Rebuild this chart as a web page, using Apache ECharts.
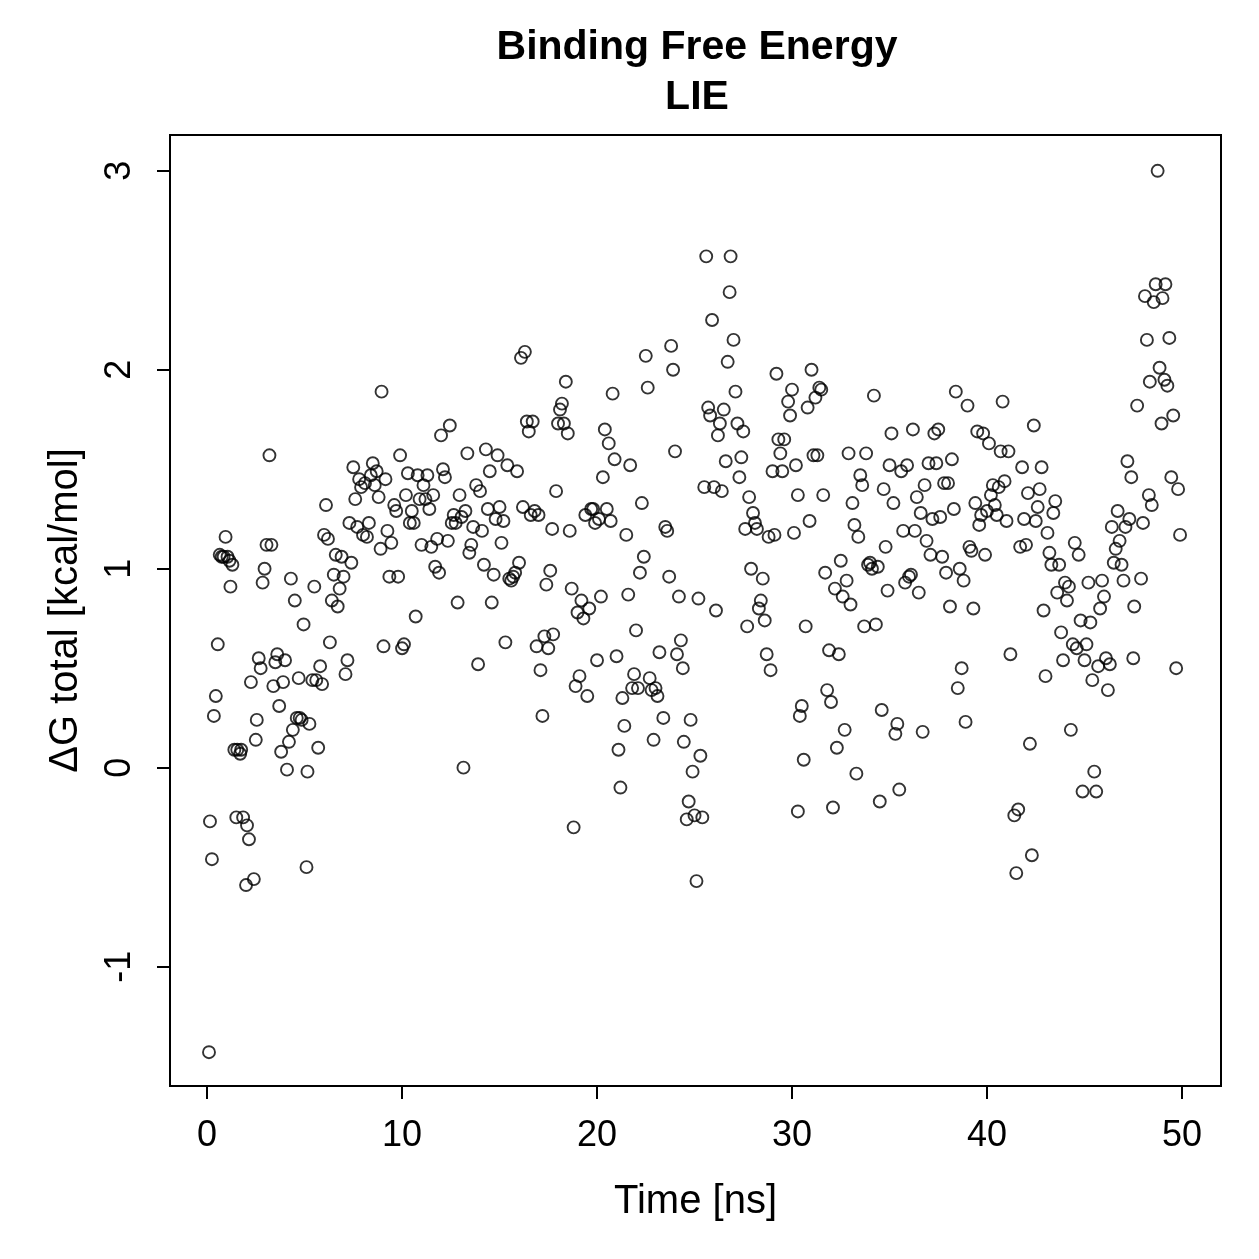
<!DOCTYPE html>
<html>
<head>
<meta charset="utf-8">
<script src="https://cdn.jsdelivr.net/npm/echarts@6/dist/echarts.min.js"></script>
<style>
  html, body { margin: 0; padding: 0; background: #fff; }
  #chart { width: 1259px; height: 1259px; }
</style>
</head>
<body>
<div id="chart"></div>
<script>
// simulation time (ns)
var timeNs = [
  0.1, 0.15, 0.25, 0.35, 0.45, 0.55, 0.65, 0.75, 0.85, 0.95,
  1.05, 1.15, 1.2, 1.3, 1.4, 1.5, 1.55, 1.7, 1.75, 1.85,
  2.0, 2.05, 2.15, 2.25, 2.4, 2.5, 2.55, 2.65, 2.75, 2.85,
  2.95, 3.05, 3.2, 3.3, 3.4, 3.5, 3.6, 3.7, 3.8, 3.9,
  4.0, 4.1, 4.2, 4.3, 4.4, 4.5, 4.6, 4.7, 4.75, 4.85,
  4.95, 5.1, 5.15, 5.25, 5.4, 5.5, 5.6, 5.7, 5.8, 5.9,
  6.0, 6.1, 6.2, 6.3, 6.4, 6.5, 6.6, 6.7, 6.8, 6.9,
  7.0, 7.1, 7.2, 7.3, 7.4, 7.5, 7.6, 7.7, 7.8, 7.9,
  8.0, 8.1, 8.2, 8.3, 8.4, 8.5, 8.6, 8.7, 8.8, 8.9,
  8.95, 9.05, 9.15, 9.25, 9.35, 9.45, 9.6, 9.7, 9.8, 9.9,
  10.0, 10.1, 10.2, 10.3, 10.4, 10.5, 10.6, 10.7, 10.8, 10.9,
  11.0, 11.1, 11.2, 11.3, 11.4, 11.5, 11.6, 11.7, 11.8, 11.9,
  12.0, 12.1, 12.2, 12.35, 12.45, 12.55, 12.65, 12.75, 12.85, 12.95,
  13.05, 13.15, 13.25, 13.35, 13.45, 13.55, 13.65, 13.8, 13.9, 14.0,
  14.1, 14.2, 14.3, 14.4, 14.5, 14.6, 14.7, 14.8, 14.9, 15.0,
  15.1, 15.2, 15.3, 15.4, 15.5, 15.6, 15.7, 15.8, 15.9, 16.0,
  16.1, 16.2, 16.3, 16.4, 16.5, 16.6, 16.7, 16.8, 16.9, 17.0,
  17.1, 17.2, 17.3, 17.4, 17.5, 17.6, 17.7, 17.75, 17.9, 18.0,
  18.1, 18.2, 18.3, 18.4, 18.5, 18.6, 18.7, 18.8, 18.9, 19.0,
  19.1, 19.2, 19.3, 19.4, 19.5, 19.6, 19.7, 19.8, 19.9, 20.0,
  20.1, 20.2, 20.3, 20.4, 20.5, 20.6, 20.7, 20.8, 20.9, 21.0,
  21.1, 21.2, 21.3, 21.4, 21.5, 21.6, 21.7, 21.8, 21.9, 22.0,
  22.1, 22.2, 22.3, 22.4, 22.5, 22.6, 22.7, 22.8, 22.9, 23.0,
  23.1, 23.2, 23.4, 23.5, 23.6, 23.7, 23.8, 23.9, 24.0, 24.1,
  24.2, 24.3, 24.4, 24.45, 24.6, 24.7, 24.8, 24.9, 25.0, 25.1,
  25.2, 25.3, 25.4, 25.5, 25.6, 25.7, 25.8, 25.9, 26.0, 26.1,
  26.2, 26.3, 26.4, 26.5, 26.6, 26.7, 26.8, 26.85, 27.0, 27.1,
  27.2, 27.3, 27.4, 27.5, 27.6, 27.7, 27.8, 27.9, 28.0, 28.1,
  28.2, 28.3, 28.4, 28.5, 28.6, 28.7, 28.8, 28.9, 29.0, 29.1,
  29.2, 29.3, 29.4, 29.5, 29.6, 29.8, 29.9, 30.0, 30.1, 30.2,
  30.3, 30.3, 30.4, 30.5, 30.6, 30.7, 30.8, 30.9, 31.0, 31.1,
  31.2, 31.3, 31.4, 31.5, 31.6, 31.7, 31.8, 31.9, 32.0, 32.1,
  32.2, 32.3, 32.4, 32.5, 32.6, 32.7, 32.8, 32.9, 33.0, 33.1,
  33.2, 33.3, 33.4, 33.5, 33.6, 33.7, 33.8, 33.9, 34.0, 34.1,
  34.2, 34.3, 34.4, 34.5, 34.6, 34.7, 34.8, 34.9, 35.0, 35.1,
  35.2, 35.3, 35.4, 35.5, 35.6, 35.7, 35.8, 35.9, 36.0, 36.1,
  36.2, 36.3, 36.4, 36.5, 36.6, 36.7, 36.8, 36.9, 37.0, 37.1,
  37.2, 37.3, 37.4, 37.5, 37.6, 37.7, 37.8, 37.9, 38.0, 38.1,
  38.2, 38.3, 38.4, 38.5, 38.6, 38.7, 38.8, 38.9, 39.0, 39.1,
  39.2, 39.3, 39.4, 39.5, 39.6, 39.7, 39.8, 39.9, 40.0, 40.1,
  40.2, 40.3, 40.4, 40.5, 40.6, 40.7, 40.8, 40.9, 41.0, 41.1,
  41.2, 41.4, 41.5, 41.6, 41.7, 41.8, 41.9, 42.0, 42.1, 42.2,
  42.3, 42.4, 42.5, 42.6, 42.7, 42.8, 42.9, 43.0, 43.1, 43.2,
  43.3, 43.4, 43.5, 43.6, 43.7, 43.8, 43.9, 44.0, 44.1, 44.2,
  44.3, 44.4, 44.5, 44.6, 44.7, 44.8, 44.9, 45.0, 45.1, 45.2,
  45.3, 45.4, 45.5, 45.6, 45.7, 45.8, 45.9, 46.0, 46.1, 46.2,
  46.3, 46.4, 46.5, 46.6, 46.7, 46.8, 46.9, 47.0, 47.1, 47.2,
  47.3, 47.4, 47.5, 47.55, 47.7, 47.9, 48.0, 48.1, 48.2, 48.3,
  48.35, 48.45, 48.55, 48.65, 48.75, 48.85, 48.95, 49.0, 49.1, 49.15,
  49.25, 49.35, 49.45, 49.55, 49.7, 49.8, 49.9
];

// ΔG total (kcal/mol)
var dGTotal = [
  -1.43, -0.27, -0.46, 0.26, 0.36, 0.62, 1.07, 1.06, 1.06, 1.16,
  1.06, 1.04, 0.91, 1.02, 0.09, -0.25, 0.09, 0.07, 0.09, -0.25,
  -0.59, -0.29, -0.36, 0.43, -0.56, 0.14, 0.24, 0.55, 0.50, 0.93,
  1.0, 1.12, 1.57, 1.12, 0.41, 0.53, 0.57, 0.31, 0.08, 0.43,
  0.54, -0.01, 0.13, 0.95, 0.19, 0.84, 0.25, 0.45, 0.25, 0.24,
  0.72, -0.50, -0.02, 0.22, 0.44, 0.91, 0.44, 0.10, 0.51, 0.42,
  1.17, 1.32, 1.15, 0.63, 0.84, 0.97, 1.07, 0.81, 0.90, 1.06,
  0.96, 0.47, 0.54, 1.23, 1.03, 1.51, 1.35, 1.21, 1.45, 1.41,
  1.17, 1.43, 1.16, 1.23, 1.47, 1.53, 1.42, 1.49, 1.36, 1.10,
  1.89, 0.61, 1.45, 1.19, 0.96, 1.13, 1.32, 1.29, 0.96, 1.57,
  0.60, 0.62, 1.37, 1.48, 1.23, 1.29, 1.23, 0.76, 1.47, 1.35,
  1.12, 1.42, 1.35, 1.47, 1.30, 1.11, 1.37, 1.01, 1.15, 0.98,
  1.67, 1.50, 1.46, 1.14, 1.72, 1.23, 1.27, 1.23, 0.83, 1.37,
  1.26, 0.0, 1.29, 1.58, 1.08, 1.12, 1.21, 1.42, 0.52, 1.39,
  1.19, 1.02, 1.60, 1.30, 1.49, 0.83, 0.97, 1.25, 1.57, 1.31,
  1.13, 1.24, 0.63, 1.52, 0.95, 0.94, 0.96, 0.98, 1.49, 1.03,
  2.06, 1.31, 2.09, 1.74, 1.69, 1.27, 1.74, 1.29, 0.61, 1.27,
  0.49, 0.26, 0.66, 0.92, 0.60, 0.99, 1.20, 0.67, 1.39, 1.73,
  1.80, 1.83, 1.73, 1.94, 1.68, 1.19, 0.90, -0.30, 0.41, 0.78,
  0.46, 0.84, 0.75, 1.27, 0.36, 0.80, 1.30, 1.30, 1.23, 0.54,
  1.25, 0.86, 1.46, 1.70, 1.30, 1.63, 1.24, 1.88, 1.55, 0.56,
  0.09, -0.10, 0.35, 0.21, 1.17, 0.87, 1.52, 0.40, 0.47, 0.69,
  0.40, 0.98, 1.33, 1.06, 2.07, 1.91, 0.45, 0.39, 0.14, 0.40,
  0.36, 0.58, 0.25, 1.21, 1.19, 0.96, 2.12, 2.00, 1.59, 0.57,
  0.86, 0.64, 0.50, 0.13, -0.26, -0.17, 0.24, -0.02, -0.24, -0.57,
  0.85, 0.06, -0.25, 1.41, 2.57, 1.81, 1.77, 2.25, 1.41, 0.79,
  1.67, 1.73, 1.39, 1.80, 1.54, 2.04, 2.39, 2.57, 2.15, 1.89,
  1.73, 1.46, 1.56, 1.69, 1.20, 0.71, 1.36, 1.00, 1.28, 1.23,
  1.20, 0.80, 0.84, 0.95, 0.74, 0.57, 1.16, 0.49, 1.49, 1.17,
  1.98, 1.65, 1.58, 1.49, 1.65, 1.84, 1.77, 1.90, 1.18, 1.52,
  1.37, -0.22, 0.26, 0.31, 0.04, 0.71, 1.81, 1.24, 2.00, 1.57,
  1.86, 1.57, 1.91, 1.90, 1.37, 0.98, 0.39, 0.59, 0.33, -0.20,
  0.90, 0.10, 0.57, 1.04, 0.86, 0.19, 0.94, 1.58, 0.82, 1.33,
  1.22, -0.03, 1.16, 1.47, 1.42, 0.71, 1.58, 1.02, 1.03, 1.00,
  1.87, 0.72, 1.01, -0.17, 0.29, 1.40, 1.11, 0.89, 1.52, 1.68,
  1.33, 0.17, 0.22, -0.11, 1.49, 1.19, 0.93, 1.52, 0.96, 0.97,
  1.70, 1.19, 1.36, 0.88, 1.28, 0.18, 1.42, 1.14, 1.53, 1.07,
  1.25, 1.68, 1.53, 1.70, 1.26, 1.06, 1.43, 0.98, 1.43, 0.81,
  1.55, 1.30, 1.89, 0.40, 1.00, 0.50, 0.94, 0.23, 1.82, 1.11,
  1.09, 0.80, 1.33, 1.69, 1.22, 1.27, 1.68, 1.07, 1.29, 1.63,
  1.37, 1.42, 1.32, 1.27, 1.41, 1.59, 1.84, 1.44, 1.24, 1.59,
  0.57, -0.24, -0.53, -0.21, 1.11, 1.51, 1.25, 1.12, 1.38, 0.12,
  -0.44, 1.72, 1.24, 1.31, 1.40, 1.51, 0.79, 0.46, 1.18, 1.08,
  1.02, 1.28, 1.34, 0.88, 1.02, 0.68, 0.54, 0.93, 0.84, 0.91,
  0.19, 0.62, 1.13, 0.60, 1.07, 0.74, -0.12, 0.54, 0.62, 0.93,
  0.73, 0.44, -0.02, -0.12, 0.51, 0.80, 0.94, 0.86, 0.55, 0.39,
  0.52, 1.21, 1.03, 1.10, 1.29, 1.14, 1.02, 0.94, 1.21, 1.54,
  1.25, 1.46, 0.55, 0.81, 1.82, 0.95, 1.23, 2.37, 2.15, 1.37,
  1.94, 1.32, 2.34, 2.43, 3.0, 2.01, 1.73, 2.36, 1.95, 2.43,
  1.92, 2.16, 1.46, 1.77, 0.50, 1.40, 1.17
];

var xTicks = [0, 10, 20, 30, 40, 50];
var yTicks = [-1, 0, 1, 2, 3];

var points = timeNs.map(function (t, i) { return [t, dGTotal[i]]; });

var font = '"Liberation Sans", Arial, Helvetica, sans-serif';

var myChart = echarts.init(document.getElementById('chart'), null, { renderer: 'canvas' });

var option = {
    backgroundColor: '#fff',
    animation: false,
    title: {
        text: 'Binding Free Energy\nLIE',
        left: 692,
        top: 18,
        textAlign: 'center',
        textStyle: {
            fontFamily: font,
            fontWeight: 'bold',
            fontSize: 41,
            lineHeight: 50,
            color: '#000'
        }
    },
    grid: {
        left: 170,
        top: 135,
        right: 38,
        bottom: 173,
        show: true,
        borderColor: '#000',
        borderWidth: 2,
        backgroundColor: 'transparent'
    },
    xAxis: {
        type: 'value',
        min: -1.9,
        max: 52,
        name: 'Time [ns]',
        nameLocation: 'middle',
        nameGap: 96,
        nameTextStyle: { fontFamily: font, fontSize: 40, color: '#000' },
        axisLine: { show: false, onZero: false },
        splitLine: { show: false },
        axisTick: {
            show: true,
            inside: false,
            length: 13,
            customValues: xTicks,
            lineStyle: { color: '#000', width: 2 }
        },
        axisLabel: {
            customValues: xTicks,
            margin: 32,
            fontFamily: font,
            fontSize: 36,
            color: '#000'
        }
    },
    yAxis: {
        type: 'value',
        min: -1.6,
        max: 3.18,
        name: 'ΔG total [kcal/mol]',
        nameLocation: 'middle',
        nameRotate: 90,
        nameGap: 84,
        nameTextStyle: { fontFamily: font, fontSize: 40, color: '#000' },
        axisLine: { show: false, onZero: false },
        splitLine: { show: false },
        axisTick: {
            show: true,
            inside: false,
            length: 13,
            customValues: yTicks,
            lineStyle: { color: '#000', width: 2 }
        },
        axisLabel: {
            customValues: yTicks,
            rotate: 90,
            margin: 32,
            fontFamily: font,
            fontSize: 36,
            color: '#000'
        }
    },
    series: [{
        type: 'scatter',
        data: points,
        symbol: 'circle',
        symbolSize: 12,
        itemStyle: {
            color: 'rgba(0,0,0,0)',
            borderColor: '#000',
            borderWidth: 1.9
        },
        emphasis: { disabled: true }
    }]
};

myChart.setOption(option);
</script>
</body>
</html>
